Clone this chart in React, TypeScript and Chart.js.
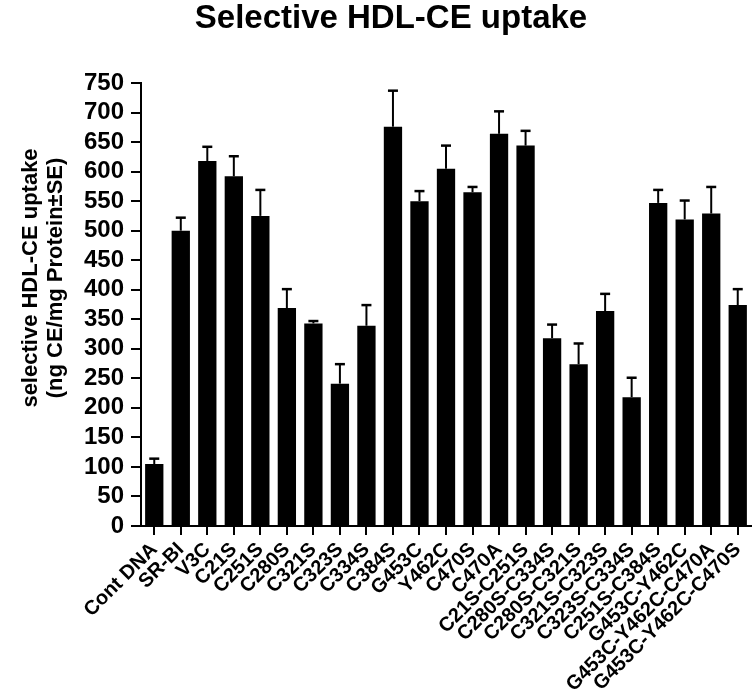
import React, { useEffect, useRef } from "react";
import { Chart, registerables } from "chart.js";

Chart.register(...registerables);

const categories = [
  "Cont DNA", "SR-BI", "V3C", "C21S", "C251S", "C280S", "C321S", "C323S", "C334S", "C384S",
  "G453C", "Y462C", "C470S", "C470A", "C21S-C251S", "C280S-C334S", "C280S-C321S",
  "C321S-C323S", "C323S-C334S", "C251S-C384S", "G453C-Y462C", "G453C-Y462C-C470A",
  "G453C-Y462C-C470S",
];

const uptakeMeans = [
  105, 500, 618, 592, 525, 369, 343, 241, 339, 676,
  550, 605, 565, 664, 644, 318, 274,
  364, 218, 547, 519, 529,
  374,
];

const uptakeSE = [
  9, 22, 24, 34, 44, 32, 4, 33, 35, 61,
  17, 39, 9, 38, 25, 23, 35,
  29, 33, 22, 32, 45,
  27,
];

const yTicks = [0, 50, 100, 150, 200, 250, 300, 350, 400, 450, 500, 550, 600, 650, 700, 750];

const chartTitle = "Selective HDL-CE uptake";
const yTitleLines = ["selective HDL-CE uptake", "(ng CE/mg Protein\u00B1SE)"];

const FONT = "'Liberation Sans', Arial, Helvetica, sans-serif";

const errorBarPlugin = {
  id: "errorBars",
  afterDatasetsDraw(chart: any) {
    const meta = chart.getDatasetMeta(0);
    const yScale = chart.scales.y;
    const ctx = chart.ctx;
    ctx.save();
    ctx.strokeStyle = "#000";
    meta.data.forEach((bar: any, i: number) => {
      const v = uptakeMeans[i];
      const e = uptakeSE[i];
      const yTop = yScale.getPixelForValue(v);
      const yCap = yScale.getPixelForValue(v + e);
      const x = bar.x;
      ctx.lineWidth = 2;
      ctx.beginPath();
      ctx.moveTo(x, yTop);
      ctx.lineTo(x, yCap);
      ctx.stroke();
      ctx.lineWidth = 2.5;
      ctx.beginPath();
      ctx.moveTo(x - 5, yCap);
      ctx.lineTo(x + 5, yCap);
      ctx.stroke();
    });
    ctx.restore();
  },
};

const yTitlePlugin = {
  id: "yTitle",
  afterDraw(chart: any) {
    const ctx = chart.ctx;
    ctx.save();
    ctx.fillStyle = "#000";
    ctx.font = `bold 22px ${FONT}`;
    ctx.textAlign = "center";
    ctx.textBaseline = "middle";
    const xs = [31, 56];
    yTitleLines.forEach((line, i) => {
      ctx.save();
      ctx.translate(xs[i], 278);
      ctx.rotate(-Math.PI / 2);
      ctx.fillText(line, 0, 0);
      ctx.restore();
    });
    ctx.restore();
  },
};

export default function App() {
  const canvasRef = useRef<HTMLCanvasElement | null>(null);

  useEffect(() => {
    if (!canvasRef.current) return;
    Chart.defaults.color = "#000";
    const chart = new Chart(canvasRef.current, {
      type: "bar",
      data: {
        labels: categories,
        datasets: [
          {
            data: uptakeMeans,
            backgroundColor: "#000",
            borderWidth: 0,
            barPercentage: 0.69,
            categoryPercentage: 1,
          },
        ],
      },
      options: {
        responsive: false,
        animation: false,
        devicePixelRatio: 1,
        layout: { padding: { left: 31, right: 3, top: 0, bottom: 0 } },
        plugins: {
          legend: { display: false },
          tooltip: { enabled: false },
          title: {
            display: true,
            text: chartTitle,
            color: "#000",
            font: { family: FONT, size: 33, weight: "bold", lineHeight: 1 },
            padding: { top: 2, bottom: 48 },
          },
        },
        scales: {
          x: {
            offset: true,
            grid: {
              display: true,
              drawOnChartArea: false,
              drawTicks: true,
              tickLength: 9,
              color: "#000",
              lineWidth: 2,
              offset: false,
            },
            border: { display: true, color: "#000", width: 2 },
            ticks: {
              autoSkip: false,
              minRotation: 45,
              maxRotation: 45,
              padding: 3,
              color: "#000",
              font: { family: FONT, size: 20, weight: "bold" },
            },
            afterFit(scale: any) {
              scale.height = 173;
              scale.paddingLeft = 0;
              scale.paddingRight = 0;
            },
          },
          y: {
            min: 0,
            max: 750,
            afterBuildTicks(scale: any) {
              scale.ticks = yTicks.map((v) => ({ value: v }));
            },
            grid: {
              display: true,
              drawOnChartArea: false,
              drawTicks: true,
              tickLength: 10,
              color: "#000",
              lineWidth: 2,
            },
            border: { display: true, color: "#000", width: 2 },
            ticks: {
              autoSkip: false,
              padding: 7,
              color: "#000",
              font: { family: FONT, size: 24, weight: "bold" },
            },
            afterFit(scale: any) {
              scale.width = 110;
              scale.paddingTop = 0;
              scale.paddingBottom = 0;
            },
          },
        },
      },
      plugins: [errorBarPlugin, yTitlePlugin],
    });
    return () => chart.destroy();
  }, []);

  return (
    <div style={{ position: "absolute", left: 0, top: 0, width: 754, height: 699, background: "#fff" }}>
      <canvas ref={canvasRef} width={754} height={699} style={{ display: "block", width: 754, height: 699 }} />
    </div>
  );
}
